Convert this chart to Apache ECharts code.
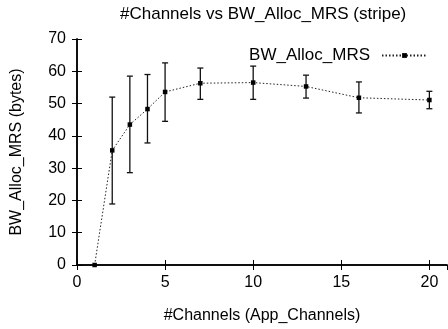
<!DOCTYPE html>
<html>
<head>
<meta charset="utf-8">
<script src="https://cdn.jsdelivr.net/npm/echarts@6/dist/echarts.min.js"></script>
<style>html,body{margin:0;padding:0;background:#fff;}#c{width:448px;height:329px;}</style>
</head>
<body>
<div id="c"></div>
<script>
const channels = [1, 2, 3, 4, 5, 7, 10, 13, 16, 20];
const bwMean   = [0, 35.5, 43.5, 48.3, 53.6, 56.3, 56.5, 55.3, 51.8, 51.1];
const bwLow    = [0, 18.9, 28.6, 37.8, 44.5, 51.3, 51.3, 51.7, 47.1, 48.4];
const bwHigh   = [0, 52.0, 58.5, 59.0, 62.6, 61.0, 61.6, 58.8, 56.7, 53.8];
const xTicks = [0, 5, 10, 15, 20];
const yTicks = [0, 10, 20, 30, 40, 50, 60, 70];

const FONT = '"Liberation Sans", Arial, Helvetica, sans-serif';
const chart = echarts.init(document.getElementById('c'), null, {renderer: 'canvas'});

const lineData = channels.map((x, i) => [x, bwMean[i]]);
const errData = channels.map((x, i) => [x, bwLow[i], bwHigh[i]]);

const axisLineStyle = {color: '#000', width: 1.5};
const tickCommon = {show: true, inside: true, length: 5, lineStyle: {color: '#000', width: 1}};

chart.setOption({
  animation: false,
  backgroundColor: '#fff',
  title: {
    text: '#Channels vs BW_Alloc_MRS (stripe)',
    left: 115, top: 1,
    textStyle: {fontFamily: FONT, fontSize: 17, fontWeight: 'normal', color: '#000'}
  },
  legend: {
    data: [{name: 'BW_Alloc_MRS'}],
    right: 15, top: 42,
    align: 'right',
    itemWidth: 45, itemHeight: 6,
    textStyle: {fontFamily: FONT, fontSize: 17, color: '#000', padding: [0, 7, 0, 0]}
  },
  grid: {left: 77, right: 1, top: 39, bottom: 59, containLabel: false},
  xAxis: [{
    type: 'value', min: 0, max: 21, interval: 5,
    name: '#Channels (App_Channels)', nameLocation: 'middle', nameGap: 43,
    nameTextStyle: {fontFamily: FONT, fontSize: 16, color: '#000'},
    axisLine: {show: true, lineStyle: axisLineStyle},
    axisTick: tickCommon,
    axisLabel: {fontFamily: FONT, fontSize: 16, color: '#000', margin: 10, showMaxLabel: false,
      formatter: v => xTicks.includes(v) ? String(v) : ''},
    splitLine: {show: false}
  }, {
    type: 'value', min: 0, max: 21, interval: 5, position: 'top',
    axisLine: {show: true, lineStyle: axisLineStyle},
    axisTick: tickCommon, axisLabel: {show: false}, splitLine: {show: false}
  }],
  yAxis: [{
    type: 'value', min: 0, max: 70, interval: 10,
    name: 'BW_Alloc_MRS (bytes)', nameLocation: 'middle', nameGap: 52,
    nameTextStyle: {fontFamily: FONT, fontSize: 16, color: '#000'},
    axisLine: {show: true, lineStyle: axisLineStyle},
    axisTick: tickCommon,
    axisLabel: {fontFamily: FONT, fontSize: 16, color: '#000', margin: 11,
      formatter: v => yTicks.includes(v) ? String(v) : ''},
    splitLine: {show: false}
  }, {
    type: 'value', min: 0, max: 70, interval: 10, position: 'right',
    axisLine: {show: true, lineStyle: axisLineStyle},
    axisTick: tickCommon, axisLabel: {show: false}, splitLine: {show: false}
  }],
  series: [{
    type: 'custom',
    name: 'err',
    xAxisIndex: 0, yAxisIndex: 0,
    data: errData,
    encode: {x: 0, y: [1, 2]},
    z: 3,
    renderItem: function (params, api) {
      const x = api.value(0);
      const lo = api.coord([x, api.value(1)]);
      const hi = api.coord([x, api.value(2)]);
      const cap = 3;
      const style = {stroke: '#111', lineWidth: 1.3};
      return {
        type: 'group',
        children: [
          {type: 'line', shape: {x1: lo[0], y1: lo[1], x2: hi[0], y2: hi[1]}, style},
          {type: 'line', shape: {x1: lo[0] - cap, y1: lo[1], x2: lo[0] + cap, y2: lo[1]}, style},
          {type: 'line', shape: {x1: hi[0] - cap, y1: hi[1], x2: hi[0] + cap, y2: hi[1]}, style}
        ]
      };
    }
  }, {
    type: 'line',
    name: 'BW_Alloc_MRS',
    xAxisIndex: 0, yAxisIndex: 0,
    data: lineData,
    z: 4,
    symbol: 'rect', symbolSize: 4.5,
    itemStyle: {color: '#000'},
    lineStyle: {color: '#222', width: 1, type: [1.5, 2]},
    clip: false
  }]
});
</script>
</body>
</html>
